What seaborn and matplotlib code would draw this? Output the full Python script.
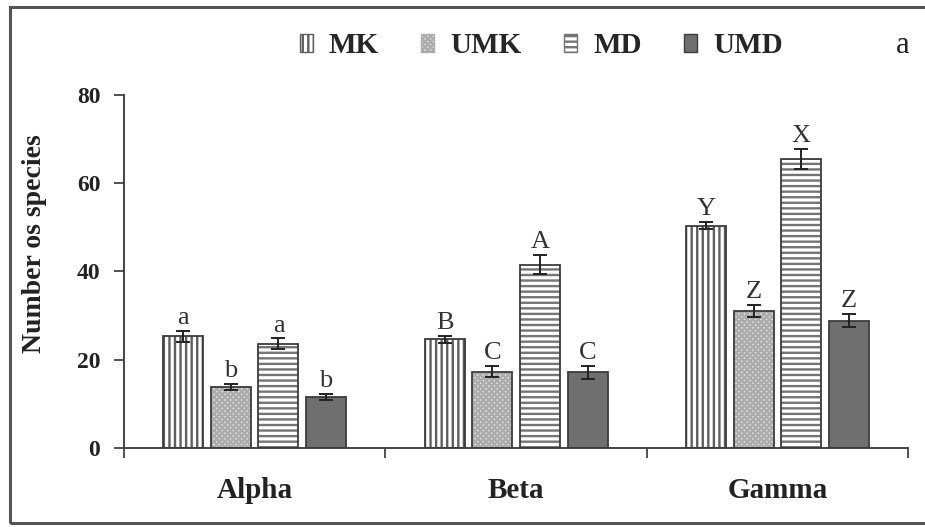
import matplotlib
matplotlib.use("Agg")
import matplotlib.pyplot as plt
from matplotlib.patches import Patch, Rectangle
import numpy as np
import pandas as pd
import seaborn as sns

# Species richness per diversity level and site group
categories = ["Alpha", "Beta", "Gamma"]
groups = ["MK", "UMK", "MD", "UMD"]
mk_mean = [25.3, 24.6, 50.3]
umk_mean = [13.9, 17.3, 31.1]
md_mean = [23.6, 41.5, 65.5]
umd_mean = [11.6, 17.1, 28.8]
mk_se = [1.3, 0.8, 0.8]
umk_se = [0.7, 1.2, 1.4]
md_se = [1.2, 2.2, 2.2]
umd_se = [0.7, 1.4, 1.5]
mk_letters = ["a", "B", "Y"]
umk_letters = ["b", "C", "Z"]
md_letters = ["a", "A", "X"]
umd_letters = ["b", "C", "Z"]
y_ticks = [0, 20, 40, 60, 80]

means = {"MK": mk_mean, "UMK": umk_mean, "MD": md_mean, "UMD": umd_mean}
ses = {"MK": mk_se, "UMK": umk_se, "MD": md_se, "UMD": umd_se}
letters = {"MK": mk_letters, "UMK": umk_letters, "MD": md_letters, "UMD": umd_letters}

rows = []
for g in groups:
    for c, m, s, l in zip(categories, means[g], ses[g], letters[g]):
        rows.append({"level": c, "group": g, "richness": m, "se": s, "letter": l})
df = pd.DataFrame(rows)

# fill, hatch, hatch colour per group
styles = {
    "MK": ("#ffffff", "|||", "#5e5e5e"),
    "UMK": ("#e4e4e4", "xxxxxx", "#acacac"),
    "MD": ("#ffffff", "---", "#747474"),
    "UMD": ("#6f6f6f", "", "#4a4a4a"),
}
edge = "#3c3c3c"

sns.set_style("white")
plt.rcParams["font.family"] = ["Liberation Serif", "DejaVu Serif"]
plt.rcParams["hatch.linewidth"] = 1.7

fig = plt.figure(figsize=(9.25, 5.27), dpi=100)
ax = fig.add_axes([0.134, 0.150, 0.848, 0.670])

sns.barplot(data=df, x="level", y="richness", hue="group", order=categories,
            hue_order=groups, width=0.728, gap=0.16, errorbar=None,
            legend=False, ax=ax)

bars = sorted([p for p in ax.patches if p.get_height() > 0], key=lambda p: p.get_x())
ordered = df.set_index(["level", "group"])
xs, tops, errs, labs = [], [], [], []
for i, p in enumerate(bars):
    c = categories[i // len(groups)]
    g = groups[i % len(groups)]
    fc, hatch, hc = styles[g]
    p.set_facecolor(fc)
    p.set_hatch(hatch)
    p.set_edgecolor(hc)
    p.set_linewidth(0)
    r = ordered.loc[(c, g)]
    xs.append(p.get_x() + p.get_width() / 2)
    tops.append(r["richness"])
    errs.append(r["se"])
    labs.append(r["letter"])

# crisp outlines over the hatched bars
w = bars[0].get_width()
ax.bar(xs, tops, width=w, fill=False, edgecolor=edge, linewidth=1.3, zorder=3)

ax.errorbar(xs, tops, yerr=errs, fmt="none", ecolor="#222222",
            elinewidth=1.4, capsize=5, capthick=1.4, zorder=4)

for x, t, e, l in zip(xs, tops, errs, labs):
    ax.annotate(l, (x, t + e), xytext=(0, 5), textcoords="offset points",
                ha="center", va="baseline", fontsize=19, color="#333333")

ax.set_xlim(-0.5, 2.5)
ax.set_ylim(0, 80)
ax.set_yticks(y_ticks)
ax.set_yticklabels([str(v) for v in y_ticks], fontweight="bold", fontsize=17,
                   color="#222222")
ax.set_xticks([-0.5, 0.5, 1.5, 2.5])
ax.set_xticklabels([])
ax.set_xticks([0, 1, 2], minor=True)
ax.set_xticklabels(categories, minor=True, fontweight="bold", fontsize=21,
                   color="#222222")
ax.tick_params(axis="x", which="major", direction="out", length=7, width=1.3,
               color="#444444", bottom=True)
ax.tick_params(axis="x", which="minor", length=0, pad=21)
ax.tick_params(axis="y", direction="out", length=7, width=1.3,
               color="#444444", left=True, pad=10)

for s in ["top", "right"]:
    ax.spines[s].set_visible(False)
for s in ["left", "bottom"]:
    ax.spines[s].set_color("#444444")
    ax.spines[s].set_linewidth(1.4)

ax.set_xlabel("")
ax.set_ylabel("Number os species", fontweight="bold", fontsize=20,
              color="#222222")
ax.yaxis.set_label_coords(-0.098, 0.578)

handles = [Patch(facecolor=styles[g][0], hatch=styles[g][1],
                 edgecolor=styles[g][2] if styles[g][1] else edge)
           for g in groups]
fig.legend(handles, groups, loc="center", bbox_to_anchor=(0.585, 0.913),
           ncol=4, frameon=False, handlelength=0.45, handleheight=0.55,
           handletextpad=0.55, columnspacing=1.45,
           prop={"weight": "bold", "size": 21})

fig.text(0.976, 0.913, "a", ha="center", va="center", fontsize=22,
         color="#222222")

# panel frame
fig.patches.append(Rectangle((10 / 925, 4 / 527), 1.2, 1 - 11 / 527,
                             transform=fig.transFigure, fill=False,
                             edgecolor="#555555", linewidth=2.2))

fig.savefig("out.png", dpi=100)
